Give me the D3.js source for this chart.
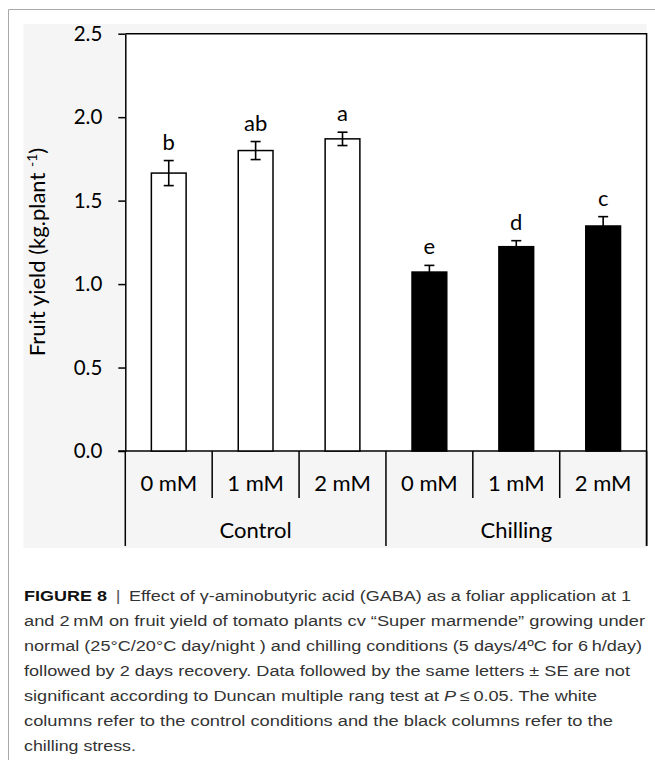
<!DOCTYPE html>
<html>
<head>
<meta charset="utf-8">
<script src="https://cdn.jsdelivr.net/npm/d3@7"></script>
<style>
  body { margin: 0; background: #fff; }
  svg { display: block; }
</style>
</head>
<body>
<div id="chart"></div>
<script>
// Data
const groups = ['Control', 'Chilling'];
const doses = ['0 mM', '1 mM', '2 mM'];
const yieldMean = [1.665, 1.80, 1.87, 1.072, 1.224, 1.348];
const yieldSE = [0.075, 0.054, 0.040, 0.040, 0.036, 0.056];
const letters = ['b', 'ab', 'a', 'e', 'd', 'c'];
const yTicks = [0, 0.5, 1.0, 1.5, 2.0, 2.5];

// Caption lines, split into styled runs
const captionLines = [
    [['FIGURE 8', 'b'], [' \u2009|\u2009 ', 'bar'], ['Effect of γ-aminobutyric acid (GABA) as a foliar application at 1', '']],
    [['and 2\u2009mM on fruit yield of tomato plants cv “Super marmende” growing under', '']],
    [['normal (25°C/20°C day/night ) and chilling conditions (5 days/4ºC for 6\u2009h/day)', '']],
    [['followed by 2 days recovery. Data followed by the same letters ± SE are not', '']],
    [['significant according to Duncan multiple rang test at ', ''], ['P', 'i'], ['\u2009≤\u20090.05. The white', '']],
    [['columns refer to the control conditions and the black columns refer to the', '']],
    [['chilling stress.', '']]
];
const captionWidths = [607, 621, 618, 606, 573, 589, 112];

const width = 655;
const height = 760;
const plot = { left: 125.3, right: 646.6, top: 33.7, bottom: 451 };
const chartFont = 'Lato, "Open Sans", sans-serif';

const svg = d3.select('#chart')
    .append('svg')
    .attr('width', width)
    .attr('height', height);

// Page frame (thin grey border top and left)
svg.append('path')
    .attr('d', `M8.5,${height} V9.5 H${width}`)
    .attr('fill', 'none')
    .attr('stroke', '#a8a8a8')
    .attr('stroke-width', 1);

// Light grey panel behind the chart, white plot area
svg.append('rect')
    .attr('x', 23.5).attr('y', 24)
    .attr('width', plot.right - 23.5).attr('height', 548 - 24)
    .attr('fill', '#f5f5f5');
svg.append('rect')
    .attr('x', plot.left).attr('y', plot.top)
    .attr('width', plot.right - plot.left).attr('height', plot.bottom - plot.top)
    .attr('fill', '#fff');

// One band per treatment
const keys = [];
groups.forEach(g => doses.forEach(d => keys.push(g + '|' + d)));
const rows = keys.map((k, i) => ({
    key: k,
    group: k.split('|')[0],
    dose: k.split('|')[1],
    mean: yieldMean[i],
    se: yieldSE[i],
    letter: letters[i]
}));

const x = d3.scaleBand()
    .domain(keys)
    .range([plot.left, plot.right])
    .paddingInner(0.6)
    .paddingOuter(0.3);

const y = d3.scaleLinear()
    .domain([0, 2.5])
    .range([plot.bottom, plot.top]);

// Y axis
const yAxis = svg.append('g')
    .attr('transform', `translate(${plot.left},0)`)
    .call(d3.axisLeft(y)
        .tickValues(yTicks)
        .tickFormat(d3.format('.1f'))
        .tickSize(7)
        .tickSizeOuter(0)
        .tickPadding(16));
yAxis.select('.domain').attr('stroke', '#000').attr('stroke-width', 1.5);
yAxis.selectAll('.tick line').attr('stroke', '#000').attr('stroke-width', 1.5);
yAxis.selectAll('.tick text')
    .attr('fill', '#000')
    .style('font-family', chartFont)
    .style('font-size', '20.5px');

// Y label with superscript
const yLabel = svg.append('text')
    .attr('transform', `translate(45,252) rotate(-90)`)
    .attr('text-anchor', 'middle')
    .style('font-family', chartFont)
    .style('font-size', '22px')
    .attr('fill', '#000');
yLabel.append('tspan').text('Fruit yield (kg.plant ');
yLabel.append('tspan').attr('baseline-shift', '55%').style('font-size', '14px').text('-1');
yLabel.append('tspan').text(')');

// Top and right plot borders
svg.append('path')
    .attr('d', `M${plot.left},${plot.top} H${plot.right} V546`)
    .attr('fill', 'none')
    .attr('stroke', '#000')
    .attr('stroke-width', 1.5);

// Baseline of the category table
svg.append('line')
    .attr('x1', plot.left - 7).attr('x2', plot.right)
    .attr('y1', plot.bottom).attr('y2', plot.bottom)
    .attr('stroke', '#000').attr('stroke-width', 1.5);

// Dividers: short between doses, long between groups
const step = x.step();
d3.range(0, keys.length + 1).forEach(i => {
    const xx = plot.left + i * step;
    const long = i % doses.length === 0;
    svg.append('line')
        .attr('x1', xx).attr('x2', xx)
        .attr('y1', plot.bottom).attr('y2', long ? 546 : 498)
        .attr('stroke', '#000').attr('stroke-width', 1.5);
});

// Dose labels
svg.selectAll('.dose-label')
    .data(rows)
    .enter()
    .append('text')
    .attr('class', 'dose-label')
    .attr('x', d => x(d.key) + x.bandwidth() / 2)
    .attr('y', 490.5)
    .attr('text-anchor', 'middle')
    .style('font-family', chartFont)
    .style('font-size', '22px')
    .text(d => d.dose);

// Group labels
svg.selectAll('.group-label')
    .data(groups)
    .enter()
    .append('text')
    .attr('class', 'group-label')
    .attr('x', (g, i) => plot.left + (i * doses.length + doses.length / 2) * step)
    .attr('y', 538)
    .attr('text-anchor', 'middle')
    .style('font-family', chartFont)
    .style('font-size', '22px')
    .text(g => g);

// Bars
svg.selectAll('.bar')
    .data(rows)
    .enter()
    .append('rect')
    .attr('class', 'bar')
    .attr('x', d => x(d.key))
    .attr('y', d => y(d.mean))
    .attr('width', x.bandwidth())
    .attr('height', d => y(0) - y(d.mean))
    .attr('fill', d => d.group === 'Control' ? '#fff' : '#000')
    .attr('stroke', '#000')
    .attr('stroke-width', 1.5);

// Error bars (± SE)
const capHalf = 5;
const err = svg.selectAll('.err')
    .data(rows)
    .enter()
    .append('g')
    .attr('class', 'err')
    .attr('stroke', '#000')
    .attr('stroke-width', 1.6);
err.append('line')
    .attr('x1', d => x(d.key) + x.bandwidth() / 2)
    .attr('x2', d => x(d.key) + x.bandwidth() / 2)
    .attr('y1', d => y(d.mean + d.se))
    .attr('y2', d => y(d.mean - d.se));
err.append('line')
    .attr('x1', d => x(d.key) + x.bandwidth() / 2 - capHalf)
    .attr('x2', d => x(d.key) + x.bandwidth() / 2 + capHalf)
    .attr('y1', d => y(d.mean + d.se))
    .attr('y2', d => y(d.mean + d.se));
err.append('line')
    .attr('x1', d => x(d.key) + x.bandwidth() / 2 - capHalf)
    .attr('x2', d => x(d.key) + x.bandwidth() / 2 + capHalf)
    .attr('y1', d => y(d.mean - d.se))
    .attr('y2', d => y(d.mean - d.se));

// Significance letters
svg.selectAll('.letter')
    .data(rows)
    .enter()
    .append('text')
    .attr('class', 'letter')
    .attr('x', d => x(d.key) + x.bandwidth() / 2)
    .attr('y', d => y(d.mean + d.se) - 11)
    .attr('text-anchor', 'middle')
    .style('font-family', chartFont)
    .style('font-size', '22px')
    .text(d => d.letter);

// Caption
const caption = svg.append('g')
    .style('font-family', '"Liberation Sans", Arial, sans-serif')
    .style('font-size', '15.5px')
    .attr('fill', '#333');

captionLines.forEach((line, i) => {
    const t = caption.append('text')
        .attr('x', 24)
        .attr('y', 600.5 + i * 25)
        .attr('textLength', captionWidths[i])
        .attr('lengthAdjust', 'spacingAndGlyphs')
        .style('white-space', 'pre');
    line.forEach(([txt, kind]) => {
        const s = t.append('tspan').text(txt);
        if (kind === 'b') s.style('font-weight', 'bold').attr('fill', '#111');
        if (kind === 'i') s.style('font-style', 'italic');
        if (kind === 'bar') s.attr('fill', '#555');
    });
});
</script>
</body>
</html>
